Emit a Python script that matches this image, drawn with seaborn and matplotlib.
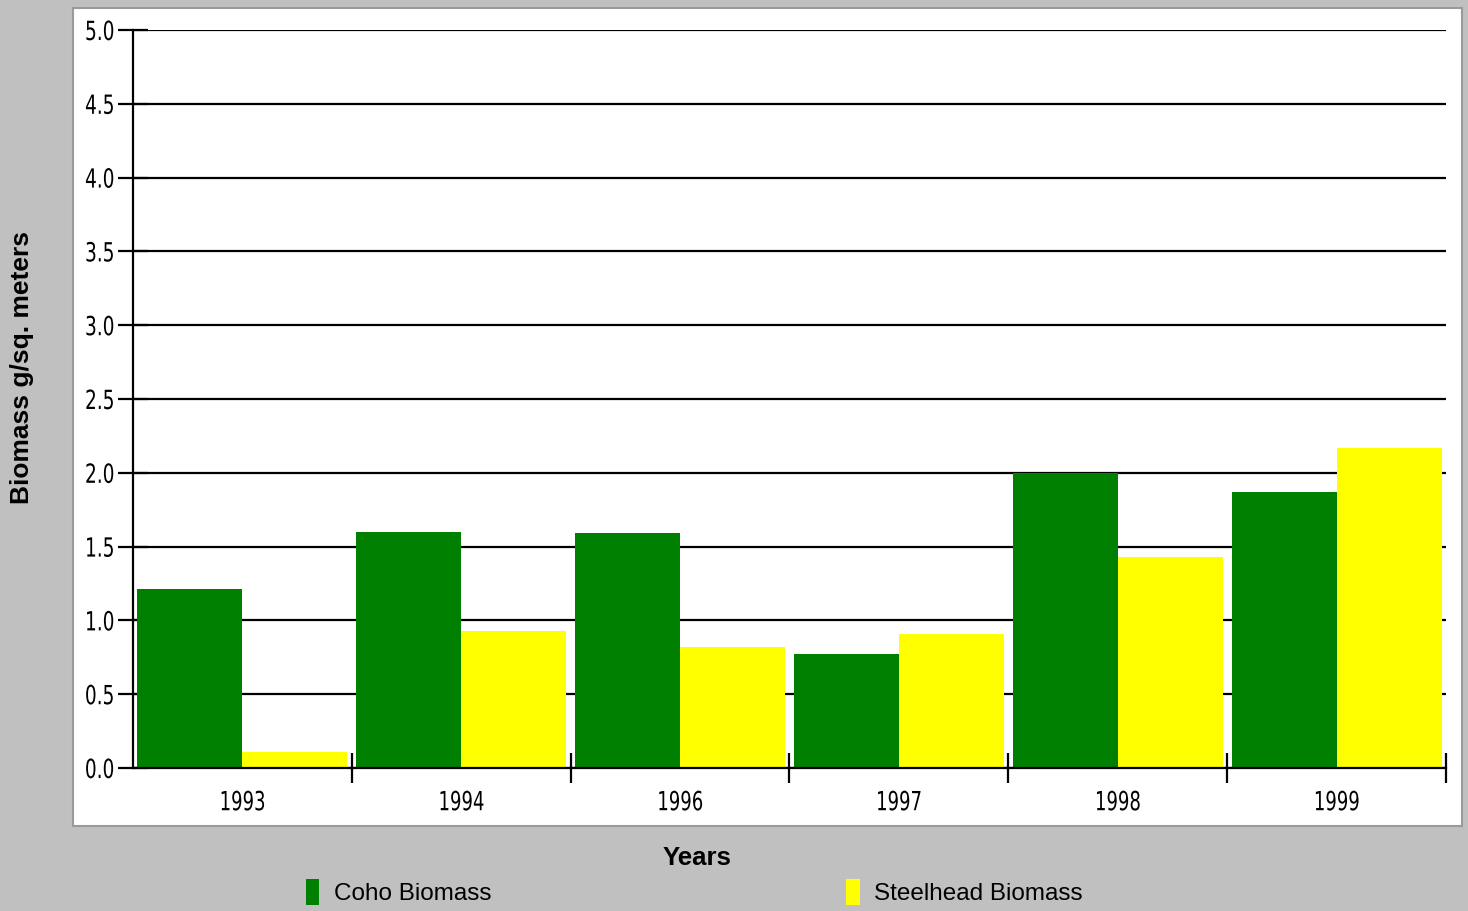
import matplotlib
matplotlib.use("Agg")
import matplotlib.pyplot as plt
from matplotlib.patches import Rectangle, Patch
from matplotlib.patheffects import AbstractPathEffect
from matplotlib.transforms import Affine2D
from matplotlib.ticker import FixedLocator, MultipleLocator
from matplotlib import font_manager
import seaborn as sns
import pandas as pd

# Biomass by year (g per sq. meter)
years = ["1993", "1994", "1996", "1997", "1998", "1999"]
coho = [1.21, 1.60, 1.59, 0.77, 2.00, 1.87]
steelhead = [0.11, 0.93, 0.82, 0.91, 1.43, 2.17]
series_names = ["Coho Biomass", "Steelhead Biomass"]
series_colors = ["#008000", "#ffff00"]

df = pd.DataFrame({
    "Year": years * 2,
    "Biomass": coho + steelhead,
    "Series": [series_names[0]] * len(years) + [series_names[1]] * len(years),
})


class Squeeze(AbstractPathEffect):
    """Narrow a text string horizontally while keeping its anchor edge."""

    def __init__(self, sx, anchor="center"):
        super().__init__()
        self.sx = sx
        self.anchor = anchor

    def draw_path(self, renderer, gc, tpath, affine, rgbFace=None):
        ext = tpath.get_extents()
        if self.anchor == "right":
            x0 = ext.x1
        elif self.anchor == "left":
            x0 = ext.x0
        else:
            x0 = 0.5 * (ext.x0 + ext.x1)
        squeeze = Affine2D().translate(-x0, 0).scale(self.sx, 1).translate(x0, 0)
        renderer.draw_path(gc, tpath, squeeze + affine, rgbFace)


sns.set_style("white")
plt.rcParams["font.family"] = ["Liberation Sans", "DejaVu Sans"]
plt.rcParams["text.color"] = "black"
plt.rcParams["xtick.color"] = "black"
plt.rcParams["ytick.color"] = "black"

W, H = 1468, 911
fig = plt.figure(figsize=(W / 100, H / 100), dpi=100)
fig.patch.set_facecolor("#c0c0c0")

# white chart panel behind the axes
panel = Rectangle((73 / W, 1 - 826 / H), (1462 - 73) / W, (826 - 8) / H,
                  transform=fig.transFigure, facecolor="white",
                  edgecolor="#9a9a9a", linewidth=1.5, zorder=-10)
fig.patches.append(panel)

ax = fig.add_axes([133 / W, 1 - 768 / H, (1446 - 133) / W, (768 - 30) / H])
ax.set_facecolor("none")

sns.barplot(data=df, x="Year", y="Biomass", hue="Series", order=years,
            hue_order=series_names, palette=series_colors, width=0.96,
            gap=0, edgecolor="none", linewidth=0, legend=False, ax=ax,
            zorder=3, saturation=1)

ax.set_xlim(-0.5, len(years) - 0.5)
ax.set_ylim(0, 5.0)

# narrow face for the numeric labels
narrow = font_manager.FontProperties(family="DejaVu Sans", stretch="condensed",
                                     size=19)

# horizontal grid lines
ax.yaxis.set_major_locator(MultipleLocator(0.5))
ax.grid(axis="y", color="black", linewidth=1.6, zorder=0)
ax.set_axisbelow(True)
ax.set_yticklabels([f"{v:.1f}" for v in ax.get_yticks()], fontproperties=narrow)
ax.tick_params(axis="y", which="major", left=True, direction="inout",
               length=22, width=1.6, color="black", pad=2, labelcolor="black")
for lab in ax.get_yticklabels():
    lab.set_path_effects([Squeeze(0.78, "right")])

# year labels centered, tick marks between groups
ax.xaxis.set_major_locator(FixedLocator(range(len(years))))
ax.set_xticklabels(years, fontproperties=narrow)
ax.tick_params(axis="x", which="major", bottom=True, length=22, width=0,
               direction="inout", pad=5, labelcolor="black")
for lab in ax.get_xticklabels():
    lab.set_path_effects([Squeeze(0.76, "center")])
ax.xaxis.set_minor_locator(FixedLocator([i + 0.5 for i in range(len(years))]))
ax.tick_params(axis="x", which="minor", bottom=True, direction="inout",
               length=22, width=1.6, color="black")

for side in ["top", "right"]:
    ax.spines[side].set_visible(False)
for side in ["left", "bottom"]:
    ax.spines[side].set_color("black")
    ax.spines[side].set_linewidth(1.6)
    ax.spines[side].set_zorder(5)

ax.set_xlabel("")
ax.set_ylabel("")
fig.text(22 / W, 1 - 368 / H, "Biomass g/sq. meters", rotation=90,
         ha="center", va="center", fontsize=19, fontweight="bold")
fig.text(697 / W, 1 - 858 / H, "Years", ha="center", va="center",
         fontsize=18.5, fontweight="bold")

handles = [Patch(facecolor=c, edgecolor="none") for c in series_colors]
fig.legend(handles, series_names, loc="center left",
           bbox_to_anchor=(306 / W, 1 - 892 / H), ncol=2, frameon=False,
           fontsize=17.5, handlelength=0.55, handleheight=1.3,
           handletextpad=0.6, columnspacing=14.6, borderpad=0,
           borderaxespad=0)

fig.savefig("out.png", dpi=100, facecolor=fig.get_facecolor())
